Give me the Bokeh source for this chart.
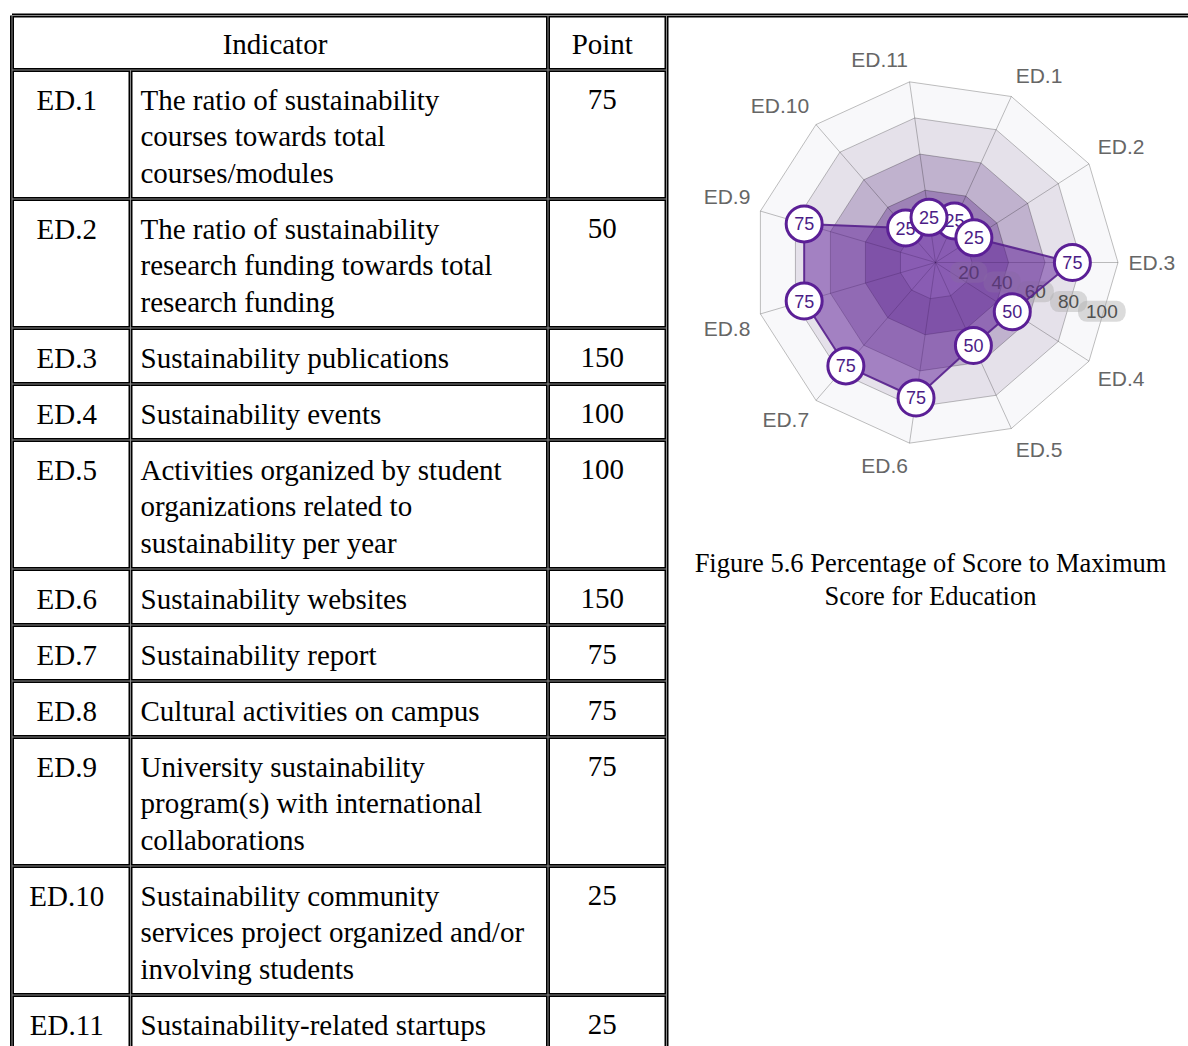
import math
from bokeh.plotting import figure
from bokeh.models import Range1d
from bokeh.core.properties import value
from bokeh.embed import file_html
from bokeh.resources import INLINE

# ---------------- data ----------------
header = ["Indicator", "Point"]
codes = ["ED.1", "ED.2", "ED.3", "ED.4", "ED.5", "ED.6", "ED.7", "ED.8", "ED.9", "ED.10", "ED.11"]
descriptions = [
    ["The ratio of sustainability", "courses towards total", "courses/modules"],
    ["The ratio of sustainability", "research funding towards total", "research funding"],
    ["Sustainability publications"],
    ["Sustainability events"],
    ["Activities organized by student", "organizations related to", "sustainability per year"],
    ["Sustainability websites"],
    ["Sustainability report"],
    ["Cultural activities on campus"],
    ["University sustainability", "program(s) with international", "collaborations"],
    ["Sustainability community", "services project organized and/or", "involving students"],
    ["Sustainability-related startups"],
]
points = [75, 50, 150, 100, 100, 150, 75, 75, 75, 25, 25]

radar_labels = codes
radar_pct = [25, 25, 75, 50, 50, 75, 75, 75, 75, 25, 25]
radar_ticks = [20, 40, 60, 80, 100]
band_colors = ["#f8f8fa", "#e5e1ea", "#c0b2ce", "#9d82b6", "#b096cc"]  # outer -> inner
caption = ["Figure 5.6 Percentage of Score to Maximum", "Score for Education"]

# ---------------- figure ----------------
W, H = 1188, 1046
p = figure(width=W, height=H, x_range=Range1d(0, W), y_range=Range1d(H, 0),
           output_backend="svg", toolbar_location=None,
           x_axis_location=None, y_axis_location=None, min_border=0)
p.outline_line_color = None
p.grid.visible = False
p.background_fill_color = "white"
p.border_fill_color = "white"

SERIF = value("Liberation Serif")
SANS = value("Liberation Sans")
FS = "29px"

# ---------------- table ----------------
XL, XC1, XC2, XR = 11.5, 130.0, 547.5, 666.0
YT, YH = 15.0, 69.5
LINE = 36.5
row_tops = []
row_bots = []
y = YH
for d in descriptions:
    row_tops.append(y)
    y = y + 19.5 + LINE * len(d)
    row_bots.append(y)
YB = y

hx0 = [XL, XL] + [XL] * len(row_bots)
hx1 = [W, XR] + [XR] * len(row_bots)
hy = [YT, YH] + row_bots
vx = [XL, XR, XC2, XC1]
vy0 = [YT, YT, YT, YH]
vy1 = [YB, YB, YB, YB]

for col, w in (("black", 4), ("#8a8a8a", 1)):
    p.segment(x0=hx0, y0=hy, x1=hx1, y1=hy, line_color=col, line_width=w)
    p.segment(x0=vx, y0=vy0, x1=vx, y1=vy1, line_color=col, line_width=w)

# header text
p.text(x=[(XL + XC2) / 2 - 5, (XC2 + XR) / 2 - 5], y=[(YT + YH) / 2 + 1, (YT + YH) / 2 + 1],
       text=header, text_font=SERIF, text_font_size=FS, text_align="center",
       text_baseline="middle", text_color="black")

cx_code, cy_code, ct = [], [], []
dx_, dy_, dt = [], [], []
px_, py_, pt_ = [], [], []
for i, d in enumerate(descriptions):
    y0 = row_tops[i] + 29.5
    cx_code.append((XL + XC1) / 2 - 4.5); cy_code.append(y0); ct.append(codes[i])
    px_.append((XC2 + XR) / 2 - 5); py_.append(y0); pt_.append(str(points[i]))
    for j, line in enumerate(d):
        dx_.append(XC1 + 10); dy_.append(y0 + j * LINE); dt.append(line)

p.text(x=cx_code, y=cy_code, text=ct, text_font=SERIF, text_font_size=FS,
       text_align="center", text_baseline="middle", text_color="black")
p.text(x=dx_, y=dy_, text=dt, text_font=SERIF, text_font_size=FS,
       text_align="left", text_baseline="middle", text_color="black")
p.text(x=px_, y=py_, text=pt_, text_font=SERIF, text_font_size=FS,
       text_align="center", text_baseline="middle", text_color="black")

# caption
p.text(x=[930, 930], y=[562, 595], text=caption, text_font=SERIF, text_font_size="26.5px",
       text_align="center", text_baseline="middle", text_color="black")

# ---------------- radar ----------------
CX, CY, R = 935.0, 262.0, 182.5
n = len(radar_labels)
step = 2 * math.pi / n
angles = [(2 - k) * step for k in range(n)]  # ED.3 points east


def polar(v, a):
    return CX + R * v / 100.0 * math.cos(a), CY - R * v / 100.0 * math.sin(a)


# bands (outer first)
bxs, bys = [], []
for t in sorted(radar_ticks, reverse=True):
    pts = [polar(t, a) for a in angles]
    bxs.append([q[0] for q in pts]); bys.append([q[1] for q in pts])
p.patches(xs=bxs, ys=bys, fill_color=band_colors, line_color=None)

# grid rings
rxs = [xs + [xs[0]] for xs in bxs]
rys = [ys + [ys[0]] for ys in bys]
p.multi_line(xs=rxs, ys=rys, line_color="black", line_alpha=0.25, line_width=1)
# spokes
sp = [polar(100, a) for a in angles]
p.segment(x0=[CX] * n, y0=[CY] * n, x1=[q[0] for q in sp], y1=[q[1] for q in sp],
          line_color="black", line_alpha=0.25, line_width=1)

# tick labels (between ED.3 and ED.4 axis)
ta = -step / 2
tk = [polar(t * 0.95, ta) for t in radar_ticks]
p.text(x=[q[0] for q in tk], y=[q[1] for q in tk], text=[str(t) for t in radar_ticks],
       text_font=SANS, text_font_size="19px", text_color="#505050",
       text_align="center", text_baseline="middle",
       background_fill_color="#b0b0b0", background_fill_alpha=0.45,
       border_radius=9, padding=(8, 4))

# data polygon
dp = [polar(v, a) for v, a in zip(radar_pct, angles)]
p.patch(x=[q[0] for q in dp], y=[q[1] for q in dp], fill_color="#62219a", fill_alpha=0.5,
        line_color="#56208c", line_width=2, line_alpha=0.9)

# axis labels
LR = 193.0
for lab, a in zip(radar_labels, angles):
    lx, ly = CX + LR * math.cos(a), CY - LR * math.sin(a)
    c, s = math.cos(a), math.sin(a)
    align = "left" if c > 0.02 else ("right" if c < -0.02 else "center")
    base = "bottom" if s > 0.02 else ("top" if s < -0.02 else "middle")
    p.text(x=[lx], y=[ly], text=[lab], text_font=SANS, text_font_size="21px",
           text_color="#666666", text_align=align, text_baseline=base)

# point markers with value labels, drawn in series order
for v, q in zip(radar_pct, dp):
    p.scatter(x=[q[0]], y=[q[1]], size=36, marker="circle", fill_color="white",
              line_color="#5b1f96", line_width=3)
    p.text(x=[q[0]], y=[q[1]], text=[str(v)], text_font=SANS, text_font_size="18px",
           text_color="#4b1c86", text_align="center", text_baseline="middle")

open("out.html", "w").write(file_html(p, INLINE))
